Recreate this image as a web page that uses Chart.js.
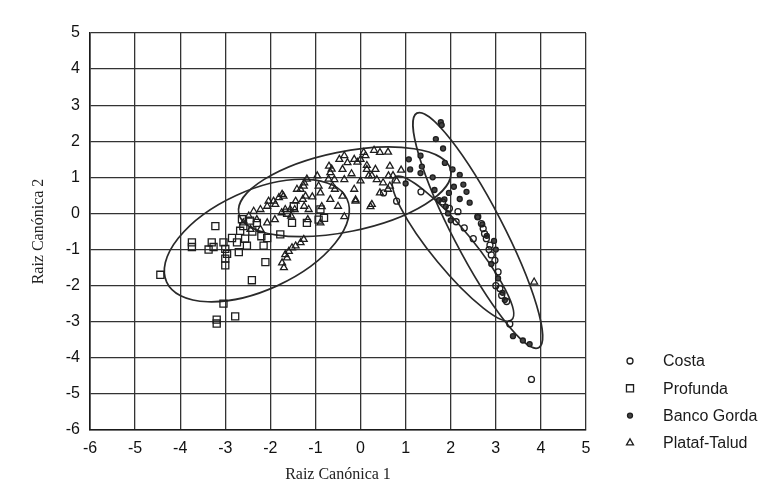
<!DOCTYPE html>
<html>
<head>
<meta charset="utf-8">
<script src="https://cdn.jsdelivr.net/npm/chart.js@4"></script>
<style>
  html, body { margin: 0; padding: 0; background: #fff; }
  canvas { display: block; }
</style>
</head>
<body>
<canvas id="chart" width="779" height="494"></canvas>
<script>
// Werte (Raiz Canónica 1 / 2)
const seriesNames = ['Costa', 'Profunda', 'Banco Gorda', 'Plataf-Talud'];
const xTicks = [-6, -5, -4, -3, -2, -1, 0, 1, 2, 3, 4, 5];
const yTicks = [-6, -5, -4, -3, -2, -1, 0, 1, 2, 3, 4, 5];

const costa = [
  [1.34, 0.6], [3.79, -4.6], [1.82, 0.32], [1.97, 0.14], [2.12, -0.23], [2.16, 0.05],
  [2.6, -0.09], [2.68, -0.28], [2.72, -0.42], [2.75, -0.56], [2.79, -0.7], [2.87, -0.88],
  [2.9, -1.15], [2.98, -1.3], [3.05, -1.62], [3.09, -2.08], [3.13, -2.27], [3.24, -2.44],
  [3.31, -3.06], [3.0, -2.0], [2.85, -1.0], [0.8, 0.34], [0.51, 0.57], [2.3, -0.4], [2.5, -0.7]
];

const profunda = [
  [-4.44, -1.7], [-3.74, -0.8], [-3.74, -0.93], [-3.37, -1.0], [-3.26, -0.93], [-3.3, -0.8],
  [-3.22, -0.35], [-3.04, -0.8], [-3.0, -0.98], [-2.96, -1.12], [-3.0, -1.25], [-3.0, -1.44],
  [-2.7, -1.07], [-2.74, -0.8], [-2.67, -0.48], [-2.63, -0.16], [-2.52, -0.89], [-2.56, -0.7],
  [-2.6, -0.35], [-2.3, -0.26], [-2.2, -0.63], [-2.07, -0.68], [-2.15, -0.89], [-2.11, -1.35],
  [-2.41, -1.85], [-3.04, -2.5], [-3.19, -2.94], [-3.19, -3.05], [-2.78, -2.85], [-2.85, -0.68],
  [-1.78, -0.58], [-1.52, -0.26], [-1.63, 0.02], [-1.19, -0.26], [-0.89, 0.11], [-0.93, -0.17],
  [-0.81, -0.12], [-1.48, 0.2], [-2.4, -0.5], [-2.45, -0.2]
];

const bancoGorda = [
  [1.78, 2.53], [1.8, 2.45], [1.67, 2.06], [1.83, 1.8], [1.87, 1.4], [1.33, 1.6], [1.36, 1.3],
  [1.33, 1.12], [1.07, 1.5], [1.1, 1.22], [1.6, 1.0], [1.64, 0.65], [1.74, 0.37], [1.89, 0.19],
  [2.0, -0.19], [2.07, 0.74], [1.0, 0.83], [2.04, 1.22], [2.2, 1.07], [1.96, 0.57], [1.86, 0.39],
  [1.94, 0.0], [2.28, 0.8], [2.35, 0.6], [2.2, 0.4], [2.42, 0.3], [2.6, -0.1], [2.7, -0.3],
  [2.8, -0.62], [2.96, -0.76], [3.0, -1.0], [2.9, -1.4], [3.05, -1.8], [3.15, -2.2], [3.2, -2.4],
  [3.38, -3.4], [3.6, -3.52], [3.75, -3.62]
];

const platafTalud = [
  [-2.48, -0.07], [-2.37, 0.06], [-2.22, 0.11], [-2.07, 0.2], [-1.93, 0.34], [-1.89, 0.25],
  [-1.81, 0.44], [-1.74, 0.53], [-1.67, 0.11], [-1.56, 0.11], [-1.44, 0.34], [-1.41, 0.67],
  [-1.26, 0.76], [-1.22, 0.48], [-1.19, 0.95], [-0.96, 1.04], [-2.3, -0.17], [-2.44, -0.44],
  [-2.6, -0.26], [-2.22, -0.44], [-2.07, -0.26], [-1.67, -1.14], [-1.59, -1.05], [-1.52, -0.95],
  [-1.44, -0.9], [-1.33, -0.81], [-1.26, -0.72], [-1.74, -1.37], [-1.7, -1.5], [-1.63, -1.23],
  [-1.15, 0.11], [-0.89, -0.26], [-2.04, 0.34], [-1.71, 0.48], [-1.33, 0.67], [-1.25, 0.85],
  [-0.93, 0.76], [-0.7, 1.31], [-0.67, 1.13], [-0.58, 0.94], [-0.62, 0.76], [-0.47, 1.5],
  [-0.4, 1.22], [-0.36, 0.94], [-0.29, 1.41], [-0.14, 1.5], [0.0, 1.5], [0.07, 1.69],
  [0.14, 1.22], [0.18, 1.04], [0.33, 1.22], [0.36, 0.94], [0.25, 0.25], [0.43, 1.69],
  [0.65, 1.31], [0.62, 1.04], [0.65, 0.76], [-0.4, 0.48], [-0.11, 0.34], [-0.67, 0.39],
  [-0.89, 0.57], [-1.25, 0.2], [-1.46, 0.11], [-1.54, -0.07], [-1.75, 0.02], [-1.9, -0.17],
  [-1.28, 0.39], [-1.17, -0.17], [-1.07, 0.46], [-0.64, 1.23], [-0.36, 1.6], [-0.07, 1.42],
  [0.11, 1.6], [0.14, 1.33], [0.25, 1.05], [0.5, 0.85], [0.43, 0.57], [0.61, 0.67],
  [-0.14, 0.67], [-0.11, 0.38], [0.22, 0.19], [-0.36, -0.09], [-0.71, 0.95], [-0.57, 0.67],
  [-0.86, 0.19], [0.61, 1.7], [0.72, 1.05], [0.9, 1.2], [0.8, 0.9], [-0.5, 0.2], [0.0, 0.9],
  [-0.2, 1.1], [0.3, 1.75], [3.85, -1.9]
];

// Ellipsen: Endpunkte der Hauptachse + Verhaeltnis Nebenachse/Hauptachse
const ellipseAxisStart = [[-4.3, -1.9], [-2.7, 0.0], [1.25, 2.78], [0.75, 1.0]];
const ellipseAxisEnd = [[-0.3, 0.4], [2.0, 1.2], [3.95, -3.72], [3.35, -2.95]];
const ellipseWidthRatio = [0.5, 0.37, 0.19, 0.22];

const toPoints = arr => arr.map(p => ({ x: p[0], y: p[1] }));

const ink = '#1e1e1e';
const seriesStyles = [
  { pointStyle: 'circle', radius: 3, fill: 'rgba(0,0,0,0)' },
  { pointStyle: 'rect', radius: 5, fill: 'rgba(0,0,0,0)' },
  { pointStyle: 'circle', radius: 2.5, fill: '#444' },
  { pointStyle: 'triangle', radius: 4, fill: 'rgba(0,0,0,0)' }
];
const seriesData = [costa, profunda, bancoGorda, platafTalud];

const ellipsePlugin = {
  id: 'ellipses',
  beforeDatasetsDraw(chart) {
    const { ctx, scales: { x, y } } = chart;
    ctx.save();
    ctx.strokeStyle = '#2a2a2a';
    ctx.lineWidth = 1.7;
    ellipseAxisStart.forEach((s, i) => {
      const e = ellipseAxisEnd[i];
      const x1 = x.getPixelForValue(s[0]), y1 = y.getPixelForValue(s[1]);
      const x2 = x.getPixelForValue(e[0]), y2 = y.getPixelForValue(e[1]);
      const a = Math.hypot(x2 - x1, y2 - y1) / 2;
      ctx.beginPath();
      ctx.ellipse((x1 + x2) / 2, (y1 + y2) / 2, a, a * ellipseWidthRatio[i], Math.atan2(y2 - y1, x2 - x1), 0, Math.PI * 2);
      ctx.stroke();
    });
    ctx.restore();
  }
};

// Legende rechts unten, wie im Original ausserhalb des Diagramms
const legendPlugin = {
  id: 'sideLegend',
  afterDraw(chart) {
    const { ctx } = chart;
    ctx.save();
    ctx.font = '16px "Liberation Sans", Arial, sans-serif';
    ctx.textBaseline = 'middle';
    seriesNames.forEach((name, i) => {
      const cy = 361 + i * 27.3;
      const st = seriesStyles[i];
      ctx.strokeStyle = ink;
      ctx.fillStyle = st.fill;
      ctx.lineWidth = 1.3;
      Chart.helpers.drawPoint(ctx, { pointStyle: st.pointStyle, radius: st.radius, rotation: 0, borderWidth: 1.3 }, 630, cy);
      ctx.fillStyle = '#1a1a1a';
      ctx.fillText(name, 663, cy + 1);
    });
    ctx.restore();
  }
};

new Chart(document.getElementById('chart'), {
  type: 'scatter',
  data: {
    datasets: seriesNames.map((name, i) => ({
      label: name,
      data: toPoints(seriesData[i]),
      pointStyle: seriesStyles[i].pointStyle,
      pointRadius: seriesStyles[i].radius,
      pointBackgroundColor: seriesStyles[i].fill,
      pointBorderColor: ink,
      pointBorderWidth: 1.3
    }))
  },
  options: {
    responsive: false,
    animation: false,
    layout: { padding: { top: 33, right: 193, bottom: 0, left: 0 } },
    plugins: { legend: { display: false }, tooltip: { enabled: false } },
    scales: {
      x: {
        type: 'linear',
        min: xTicks[0],
        max: xTicks[xTicks.length - 1],
        afterBuildTicks: s => { s.ticks = xTicks.map(v => ({ value: v })); },
        afterFit: s => { s.height = 64; },
        grid: { color: '#333', lineWidth: 1.3, drawTicks: false },
        border: { color: '#1a1a1a', width: 1.6 },
        ticks: { color: '#111', padding: 9, font: { family: '"Liberation Sans", Arial, sans-serif', size: 16 } },
        title: {
          display: true,
          text: 'Raiz Canónica 1',
          color: '#222',
          padding: { top: 0, bottom: 10 },
          font: { family: '"Liberation Serif", "Times New Roman", serif', size: 16 }
        }
      },
      y: {
        type: 'linear',
        min: yTicks[0],
        max: yTicks[yTicks.length - 1],
        afterBuildTicks: s => { s.ticks = yTicks.map(v => ({ value: v })); },
        afterFit: s => { s.width = 90; },
        grid: { color: '#333', lineWidth: 1.3, drawTicks: false },
        border: { color: '#1a1a1a', width: 1.6 },
        ticks: { color: '#111', padding: 10, font: { family: '"Liberation Sans", Arial, sans-serif', size: 16 } },
        title: {
          display: true,
          text: 'Raiz Canónica 2',
          color: '#222',
          padding: { top: 29, bottom: 0 },
          font: { family: '"Liberation Serif", "Times New Roman", serif', size: 16 }
        }
      }
    }
  },
  plugins: [ellipsePlugin, legendPlugin]
});
</script>
</body>
</html>
